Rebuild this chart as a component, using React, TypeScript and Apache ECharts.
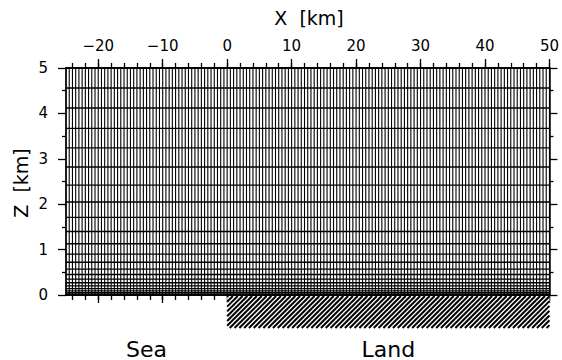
import React, { useEffect, useRef } from "react";
import * as echarts from "echarts";

const xMin = -25;
const xMax = 50;
const zMin = 0;
const zMax = 5;

const xMajorTicks = [-20, -10, 0, 10, 20, 30, 40, 50];
const xMinorTicks = [-24, -22, -20, -18, -16, -14, -12, -10, -8, -6, -4, -2, 0, 2, 4, 6, 8, 10, 12, 14, 16, 18, 20, 22, 24, 26, 28, 30, 32, 34, 36, 38, 40, 42, 44, 46, 48, 50];

const xMeshLines = [-25, -24.5, -24, -23.5, -23, -22.5, -22, -21.5, -21, -20.5, -20, -19.5, -19, -18.5, -18, -17.5, -17, -16.5, -16, -15.5, -15, -14.5, -14, -13.5, -13, -12.5, -12, -11.5, -11, -10.5, -10, -9.5, -9, -8.5, -8, -7.5, -7, -6.5, -6, -5.5, -5, -4.5, -4, -3.5, -3, -2.5, -2, -1.5, -1, -0.5, 0, 0.5, 1, 1.5, 2, 2.5, 3, 3.5, 4, 4.5, 5, 5.5, 6, 6.5, 7, 7.5, 8, 8.5, 9, 9.5, 10, 10.5, 11, 11.5, 12, 12.5, 13, 13.5, 14, 14.5, 15, 15.5, 16, 16.5, 17, 17.5, 18, 18.5, 19, 19.5, 20, 20.5, 21, 21.5, 22, 22.5, 23, 23.5, 24, 24.5, 25, 25.5, 26, 26.5, 27, 27.5, 28, 28.5, 29, 29.5, 30, 30.5, 31, 31.5, 32, 32.5, 33, 33.5, 34, 34.5, 35, 35.5, 36, 36.5, 37, 37.5, 38, 38.5, 39, 39.5, 40, 40.5, 41, 41.5, 42, 42.5, 43, 43.5, 44, 44.5, 45, 45.5, 46, 46.5, 47, 47.5, 48, 48.5, 49, 49.5, 50];

const zMeshLines = [5.0, 4.56, 4.12, 3.67, 3.24, 2.82, 2.42, 2.05, 1.71, 1.4, 1.13, 0.9, 0.72, 0.57, 0.45, 0.35, 0.27, 0.2, 0.14, 0.09, 0.05, 0.02, 0];

const landRange = [0, 50];
const regionNames = ["Sea", "Land"];
const regionCenters = [-12.5, 25];

const FONT = "DejaVu Sans";

export default function App() {
  const ref = useRef<HTMLDivElement>(null);

  useEffect(() => {
    const chart = echarts.init(ref.current as HTMLDivElement, null, { renderer: "svg" });

    const axisLine = { show: true, onZero: false, lineStyle: { color: "#000", width: 1.5 } };
    const labelStyle = { color: "#000", fontFamily: FONT, fontSize: 15 };
    const fmt = (v: number) => String(v).replace("-", "\u2212");

    const xAxisBase = (position: string, ticks: number[], len: number, showLabel: boolean) => ({
      type: "value",
      position,
      min: xMin,
      max: xMax,
      axisLine,
      splitLine: { show: false },
      axisTick: { show: true, customValues: ticks, length: len, lineStyle: { color: "#000", width: 1.3 } },
      axisLabel: showLabel
        ? { show: true, customValues: xMajorTicks, margin: 15, formatter: fmt, ...labelStyle }
        : { show: false },
    });

    const yAxisBase = (position: string, showLabel: boolean) => ({
      type: "value",
      position,
      min: zMin,
      max: zMax,
      interval: 1,
      axisLine,
      splitLine: { show: false },
      axisTick: { show: true, length: 8, lineStyle: { color: "#000", width: 1.3 } },
      minorTick: { show: true, splitNumber: 2, length: 4, lineStyle: { color: "#000", width: 1.3 } },
      axisLabel: showLabel ? { show: true, margin: 18, ...labelStyle } : { show: false },
    });

    const option: any = {
      animation: false,
      backgroundColor: "#fff",
      grid: { left: 66, right: 8, top: 68, bottom: 65 },
      xAxis: [
        xAxisBase("top", xMajorTicks, 9, true),
        xAxisBase("top", xMinorTicks, 5, false),
        xAxisBase("bottom", xMajorTicks, 8, false),
        xAxisBase("bottom", xMinorTicks, 5, false),
      ],
      yAxis: [yAxisBase("left", true), yAxisBase("right", false)],
      graphic: [
        {
          type: "text",
          x: 309,
          y: 18,
          style: {
            text: "X  [km]",
            fontFamily: FONT,
            fontSize: 19,
            fill: "#000",
            align: "center",
            verticalAlign: "middle",
          },
        },
        {
          type: "text",
          x: 21,
          y: 183,
          rotation: Math.PI / 2,
          style: {
            text: "Z  [km]",
            fontFamily: FONT,
            fontSize: 19,
            fill: "#000",
            align: "center",
            verticalAlign: "middle",
          },
        },
      ],
      series: [
        {
          type: "custom",
          name: "xMesh",
          silent: true,
          xAxisIndex: 0,
          yAxisIndex: 0,
          encode: { x: 0, y: 1 },
          data: xMeshLines.map((x) => [x, zMin]),
          renderItem: (_p: any, api: any) => {
            const x = api.value(0);
            const a = api.coord([x, zMin]);
            const b = api.coord([x, zMax]);
            return {
              type: "line",
              shape: { x1: a[0], y1: a[1], x2: b[0], y2: b[1] },
              style: { stroke: "#000", lineWidth: 1.1 },
            };
          },
        },
        {
          type: "custom",
          name: "zMesh",
          silent: true,
          xAxisIndex: 0,
          yAxisIndex: 0,
          encode: { x: 0, y: 1 },
          data: zMeshLines.map((z) => [xMin, z]),
          renderItem: (_p: any, api: any) => {
            const z = api.value(1);
            const a = api.coord([xMin, z]);
            const b = api.coord([xMax, z]);
            return {
              type: "line",
              shape: { x1: a[0], y1: a[1], x2: b[0], y2: b[1] },
              style: { stroke: "#000", lineWidth: 1.4 },
            };
          },
        },
        {
          type: "custom",
          name: "land",
          silent: true,
          clip: false,
          xAxisIndex: 0,
          yAxisIndex: 0,
          encode: { x: [0, 1], y: 2 },
          data: [[landRange[0], landRange[1], zMin]],
          renderItem: (_p: any, api: any) => {
            const a = api.coord([api.value(0), api.value(2)]);
            const b = api.coord([api.value(1), api.value(2)]);
            const x0 = a[0];
            const x1 = b[0];
            const y0 = a[1] + 1;
            const y1 = a[1] + 33;
            const children: any[] = [
              { type: "rect", shape: { x: x0, y: y0, width: x1 - x0, height: y1 - y0 }, style: { fill: "#fff" } },
            ];
            const step = 4.8;
            for (let c = x0 + y0 + 1; c <= x1 + y1; c += step) {
              const xa = Math.max(x0, c - y1);
              const xb = Math.min(x1, c - y0);
              if (xb > xa) {
                children.push({
                  type: "line",
                  shape: { x1: xa, y1: c - xa, x2: xb, y2: c - xb },
                  style: { stroke: "#000", lineWidth: 2 },
                });
              }
            }
            return { type: "group", children };
          },
        },
        {
          type: "custom",
          name: "regions",
          silent: true,
          clip: false,
          xAxisIndex: 0,
          yAxisIndex: 0,
          encode: { x: 0, y: 1 },
          data: regionCenters.map((x) => [x, zMin]),
          renderItem: (p: any, api: any) => {
            const a = api.coord([api.value(0), api.value(1)]);
            return {
              type: "text",
              x: a[0],
              y: a[1] + 54,
              style: {
                text: regionNames[p.dataIndex],
                fontFamily: FONT,
                fontSize: 22,
                fill: "#000",
                align: "center",
                verticalAlign: "middle",
              },
            };
          },
        },
      ],
    };

    chart.setOption(option);
    return () => chart.dispose();
  }, []);

  return (
    <div
      ref={ref}
      style={{ position: "fixed", left: 0, top: 0, width: 562, height: 360, background: "#fff" }}
    />
  );
}
